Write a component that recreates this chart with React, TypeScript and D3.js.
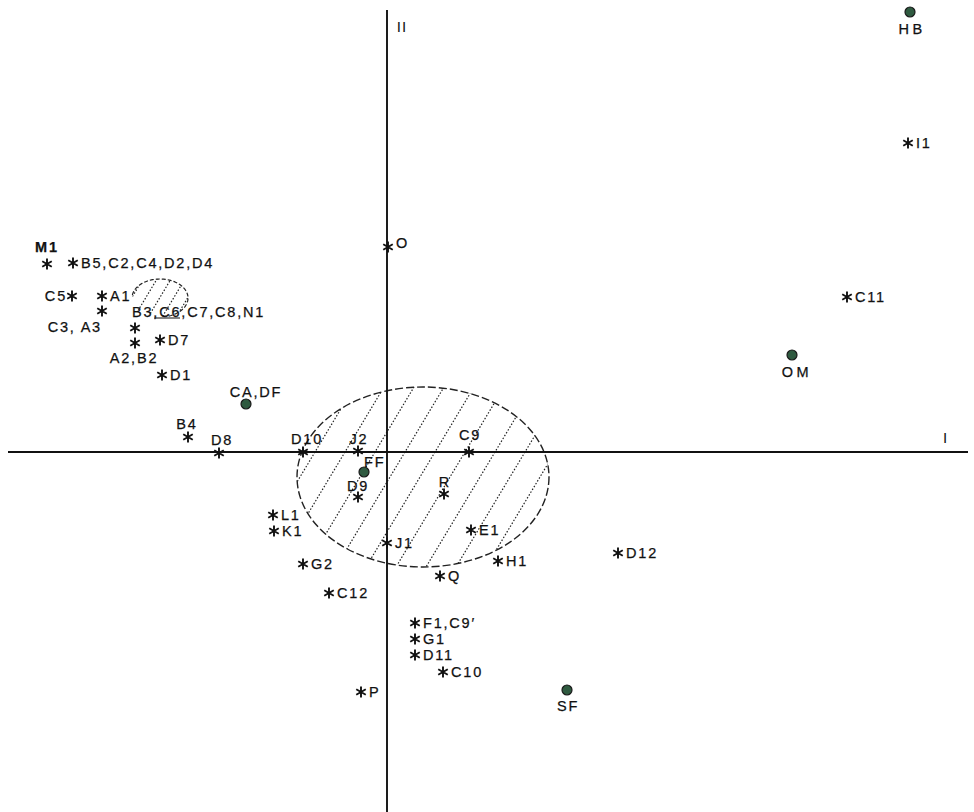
import React from "react";
import * as d3 from "d3";

// Star-marked objects (factor scores on axes I and II)
const starLabels = [
  "M1", "B5,C2,C4,D2,D4", "C5", "A1", "C3, A3", "B3,C6,C7,C8,N1", "A2,B2", "D7", "D1",
  "B4", "D8", "D10", "J2", "D9", "L1", "K1", "J1", "C9", "R", "E1", "H1", "Q", "D12",
  "G2", "C12", "F1,C9\u2032", "G1", "D11", "C10", "P", "I1", "C11", "O",
];
const starX = [
  -3.40, -3.14, -3.15, -2.85, -2.85, -2.52, -2.52, -2.27, -2.25,
  -1.99, -1.68, -0.84, -0.29, -0.29, -1.14, -1.13, 0.0, 0.82, 0.57, 0.84, 1.11, 0.53, 2.31,
  -0.84, -0.58, 0.28, 0.28, 0.28, 0.56, -0.26, 5.21, 4.60, 0.01,
];
const starY = [
  1.88, 1.89, 1.56, 1.56, 1.41, 1.24, 1.09, 1.12, 0.77,
  0.15, -0.01, 0.0, 0.01, -0.45, -0.63, -0.79, -0.91, 0.0, -0.42, -0.78, -1.09, -1.24, -1.01,
  -1.12, -1.41, -1.71, -1.87, -2.03, -2.20, -2.40, 3.09, 1.55, 2.05,
];

// Dot-marked objects
const dotLabels = ["CA,DF", "FF", "SF", "HB", "OM"];
const dotX = [-1.41, -0.23, 1.80, 5.23, 4.05];
const dotY = [0.48, -0.20, -2.38, 4.40, 0.97];

// Axis labels
const axisLabels = ["I", "II"];

// Hatched regions: [cx, cy, rx, ry]
const bigRegion = [0.36, -0.25, 1.26, 0.90];
const smallRegion = [-2.27, 1.54, 0.28, 0.19];

// label placement: [anchor, dx, dy]
const place: Record<string, [string, number, number]> = {
  "M1": ["start", -12, -12],
  "C5": ["end", -5, 5],
  "C3, A3": ["end", 0, 21],
  "B3,C6,C7,C8,N1": ["start", -3, -11],
  "A2,B2": ["middle", -1, 20],
  "CA,DF": ["middle", 10, -7],
  "B4": ["middle", -1, -8],
  "D8": ["middle", 3, -8],
  "D10": ["middle", 4, -8],
  "J2": ["middle", 1, -7],
  "FF": ["start", 0, -5],
  "D9": ["middle", 0, -6],
  "C9": ["middle", 1, -12],
  "R": ["middle", 1, -7],
  "SF": ["middle", 1, 21],
  "HB": ["middle", 2, 22],
  "OM": ["middle", 5, 22],
  "O": ["start", 8, 1],
};

const W = 974;
const H = 812;

export default function App() {
  const x = d3.scaleLinear().domain([-3.79, 5.81]).range([8, 968]);
  const y = d3.scaleLinear().domain([4.42, -3.60]).range([10, 812]);
  const ox = x(0);
  const oy = y(0);

  const starPath = (r: number) => {
    const p = d3.path();
    [90, 30, 150].forEach((deg) => {
      const a = (deg * Math.PI) / 180;
      p.moveTo(-r * Math.cos(a), -r * Math.sin(a));
      p.lineTo(r * Math.cos(a), r * Math.sin(a));
    });
    return p.toString();
  };
  const star = starPath(5.5);

  const ell = (reg: number[]) => {
    const [cx, cy, rx, ry] = reg;
    return { cx: x(cx), cy: y(cy), rx: x(rx) - x(0), ry: y(0) - y(ry) };
  };
  const big = ell(bigRegion);
  const small = ell(smallRegion);

  const hatch = (e: { cx: number; cy: number; rx: number; ry: number }, spacing: number, ratio: number) => {
    const lines: JSX.Element[] = [];
    const top = e.cy - e.ry - 5;
    const bot = e.cy + e.ry + 5;
    const span = (bot - top) * ratio;
    let i = 0;
    for (let sx = e.cx - e.rx - span; sx <= e.cx + e.rx + span; sx += spacing) {
      lines.push(
        <line key={i++} x1={sx} y1={bot} x2={sx + span} y2={top} stroke="#222" strokeWidth={1.2} strokeDasharray="1.5 1.8" />
      );
    }
    return lines;
  };

  // partial outline of small region: from left over top, down right side
  const smallArc = d3
    .line<number>()
    .x((t) => small.cx + small.rx * Math.cos(t))
    .y((t) => small.cy + small.ry * Math.sin(t))(d3.range(Math.PI * 1.05, Math.PI * 2.45, 0.05));

  const font = "'Liberation Sans', Arial, Helvetica, sans-serif";

  const label = (name: string, px: number, py: number, k: string) => {
    const pl = place[name] || ["start", 8, 5];
    return (
      <text
        key={"t" + k}
        x={px + pl[1]}
        y={py + pl[2]}
        textAnchor={pl[0] as any}
        fontSize={14.5}
        fontWeight={name === "M1" ? "bold" : "normal"}
        letterSpacing={name === "HB" || name === "OM" ? 3.5 : 1.8}
        fill="#111"
        stroke="#111"
        strokeWidth={0.25}
      >
        {name}
      </text>
    );
  };

  return (
    <svg width={W} height={H} style={{ position: "absolute", left: 0, top: 0, background: "#fff" }} fontFamily={font}>
      <defs>
        <clipPath id="bigClip">
          <ellipse cx={big.cx} cy={big.cy} rx={big.rx} ry={big.ry} />
        </clipPath>
        <clipPath id="smallClip">
          <ellipse cx={small.cx} cy={small.cy} rx={small.rx} ry={small.ry} />
        </clipPath>
      </defs>

      {/* hatched regions */}
      <g clipPath="url(#bigClip)">{hatch(big, 30, 0.6)}</g>
      <ellipse cx={big.cx} cy={big.cy} rx={big.rx} ry={big.ry} fill="none" stroke="#222" strokeWidth={1.4} strokeDasharray="8 3" />
      <g clipPath="url(#smallClip)">{hatch(small, 14, 0.6)}</g>
      <path d={smallArc || ""} fill="none" stroke="#222" strokeWidth={1.2} strokeDasharray="4 2" />
      <line x1={small.cx - 6} x2={small.cx + 20} y1={small.cy + small.ry + 1} y2={small.cy + small.ry + 1} stroke="#222" strokeWidth={1.1} />

      {/* axes */}
      <line x1={x(-3.79)} x2={x(5.81)} y1={oy} y2={oy} stroke="#111" strokeWidth={1.9} />
      <line x1={ox} x2={ox} y1={y(4.42)} y2={y(-3.6)} stroke="#111" strokeWidth={1.9} />
      <text x={945} y={443} fontSize={15} fill="#111" textAnchor="middle">{axisLabels[0]}</text>
      <text x={402} y={32} fontSize={15} fill="#111" textAnchor="middle" letterSpacing={1}>{axisLabels[1]}</text>

      {/* stars */}
      {starLabels.map((n, i) => {
        const px = x(starX[i]);
        const py = y(starY[i]);
        return (
          <g key={"s" + i}>
            <path d={star} transform={`translate(${px},${py})`} stroke="#111" strokeWidth={1.9} fill="none" />
            {label(n, px, py, "s" + i)}
          </g>
        );
      })}

      {/* dots */}
      {dotLabels.map((n, i) => {
        const px = x(dotX[i]);
        const py = y(dotY[i]);
        return (
          <g key={"d" + i}>
            <circle cx={px} cy={py} r={5} fill="#2f5a40" stroke="#1a1a1a" strokeWidth={1.2} />
            {label(n, px, py, "d" + i)}
          </g>
        );
      })}
    </svg>
  );
}
